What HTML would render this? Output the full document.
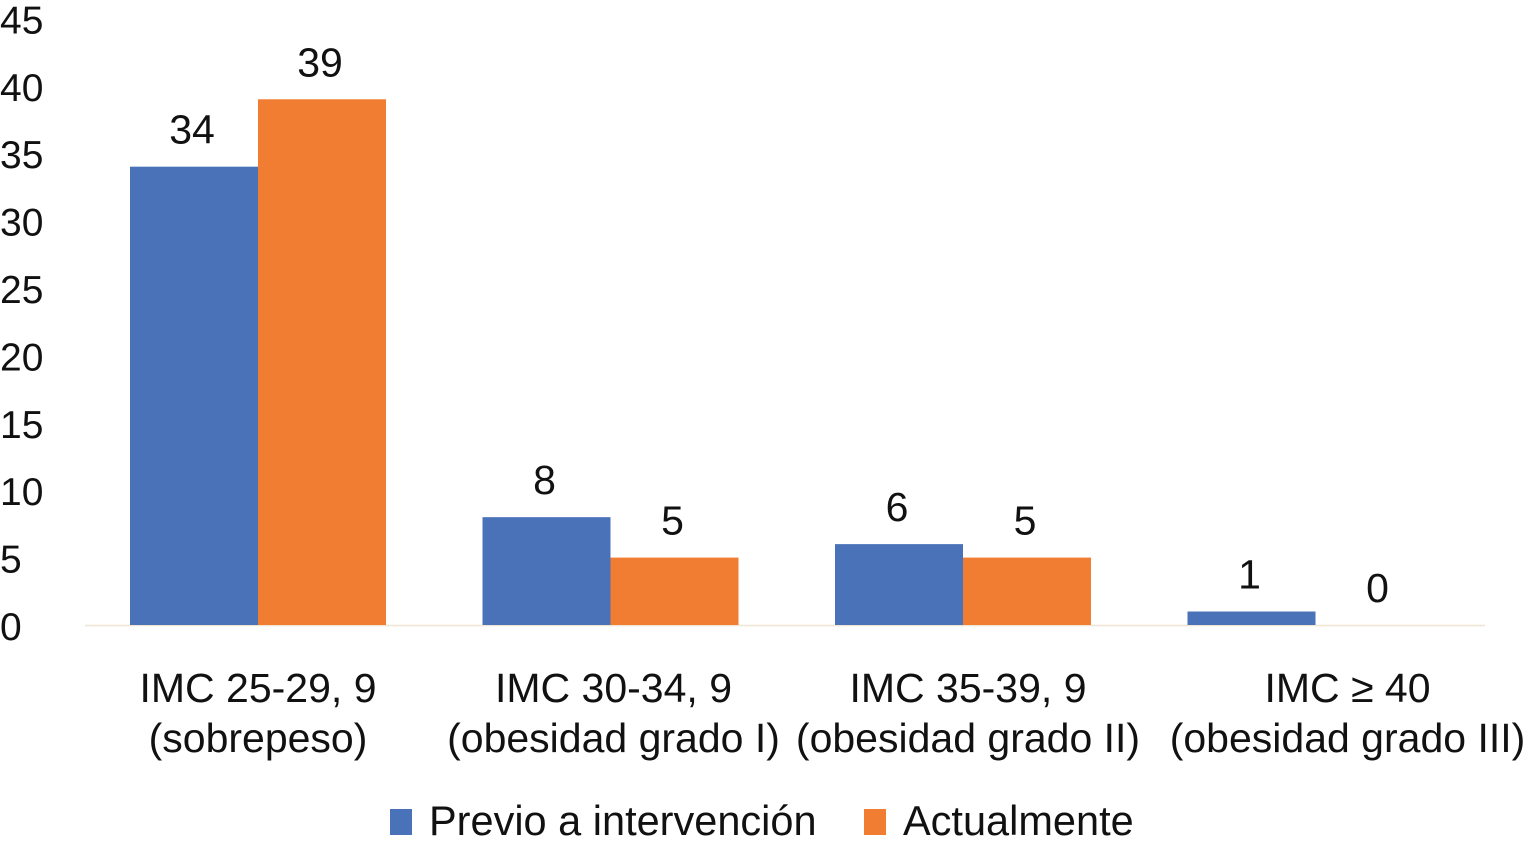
<!DOCTYPE html>
<html><head><meta charset="utf-8">
<style>
html,body{margin:0;padding:0;background:#fff;}
body{width:1527px;height:845px;overflow:hidden;position:relative;font-family:"Liberation Sans",Arial,sans-serif;}
svg{position:absolute;left:0;top:0;}
text{font-family:"Liberation Sans",Arial,sans-serif;fill:#111;}
</style></head>
<body>
<svg id="chart" width="1527" height="845"></svg>
<script>
const categories1 = ["IMC 25-29, 9","IMC 30-34, 9","IMC 35-39, 9","IMC \u2265 40"];
const categories2 = ["(sobrepeso)","(obesidad grado I)","(obesidad grado II)","(obesidad grado III)"];
const previo = [34, 8, 6, 1];
const actual = [39, 5, 5, 0];
const yTicks = [0,5,10,15,20,25,30,35,40,45];
const seriesNames = ["Previo a intervención","Actualmente"];

const NS="http://www.w3.org/2000/svg";
const svg=document.getElementById('chart');
const y0=625, pxPerUnit=13.48;
function yScale(v){return y0 - v*pxPerUnit;}
const groupStart=130, groupStep=352.5, barW=128;
function xBar(i,s){return groupStart + i*groupStep + s*barW;}
function mk(tag,attrs,txt){const e=document.createElementNS(NS,tag);for(const k in attrs)e.setAttribute(k,attrs[k]);if(txt!==undefined)e.textContent=txt;svg.appendChild(e);return e;}

yTicks.forEach(t=>{
  const e=mk('text',{x:0,y:yScale(t)+15,'font-size':39,'text-anchor':'start'},String(t));
  
  
});
const base=mk('line',{x1:85,x2:1485,y1:y0+0.5,y2:y0+0.5,stroke:'#efe6d6','stroke-width':1.5});



const colors=['#4a72b8','#f07d31'];
[previo,actual].forEach((arr,s)=>{
  arr.forEach((v,i)=>{
    const x=xBar(i,s), yt=yScale(v);
    if(v>0){
      const r=mk('rect',{x:x,y:yt,width:barW,height:y0-yt,fill:colors[s]});
      
      
    }
    const l=mk('text',{x:x+barW/2-2,y:yt-23,'font-size':41,'text-anchor':'middle'},String(v));
    
    
  });
});
categories1.forEach((c,i)=>{
  const cx=xBar(i,1);
  const offs=[0,3,5,32][i];
  const a=mk('text',{x:cx+offs,y:702,'font-size':41,'text-anchor':'middle'},c);
  
  
  const b=mk('text',{x:cx+offs,y:752,'font-size':41,'text-anchor':'middle'},categories2[i]);
  
  
});
const legX=[390,864];
seriesNames.forEach((n,s)=>{
  const r=mk('rect',{x:legX[s],y:809,width:22,height:26,fill:colors[s]});
  
  
  const t=mk('text',{x:legX[s]+39,y:835,'font-size':41.5},n);
  
  
});
</script>
</body></html>
